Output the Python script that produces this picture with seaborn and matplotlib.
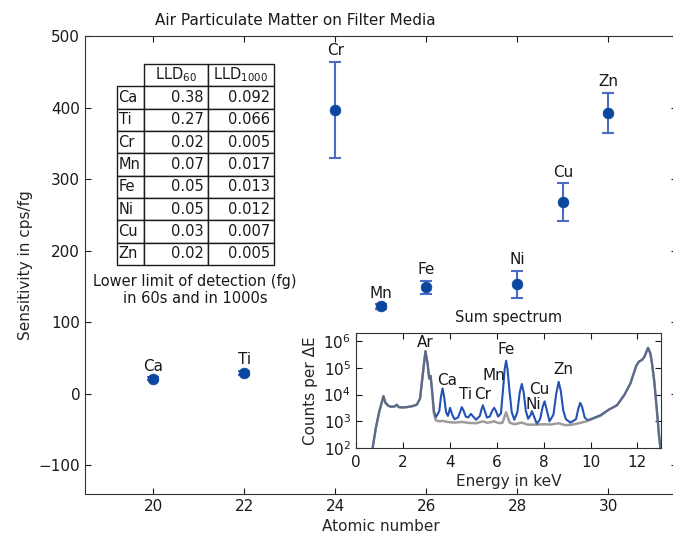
import matplotlib
matplotlib.use('Agg')
import matplotlib.pyplot as plt
import numpy as np
import pandas as pd
import seaborn as sns

# sensitivity per element
elements = ['Ca', 'Ti', 'Cr', 'Mn', 'Fe', 'Ni', 'Cu', 'Zn']
atomic_number = [20, 22, 24, 25, 26, 28, 29, 30]
sensitivity = [21, 29, 397, 122, 149, 153, 268, 393]
sens_err = [2, 3, 67, 3, 9, 19, 26, 28]

# lower limit of detection table
lld_cols = ['', 'LLD$_{60}$', 'LLD$_{1000}$']
lld_60 = ['0.38', '0.27', '0.02', '0.07', '0.05', '0.05', '0.03', '0.02']
lld_1000 = ['0.092', '0.066', '0.005', '0.017', '0.013', '0.012', '0.007', '0.005']

# sum spectrum (keV, counts per dE)
spec_low_e = [0.68, 0.85, 1.0, 1.12, 1.17, 1.25, 1.38, 1.5, 1.65, 1.74, 1.82, 2.0, 2.16,
              2.4, 2.59, 2.73, 2.85, 2.96, 3.05, 3.12, 3.18, 3.24]
spec_low_c = [70, 600, 2500, 6000, 8700, 5000, 3800, 3500, 3600, 4200, 3400, 3300, 3400,
              3700, 4200, 7000, 60000, 420000, 150000, 40000, 50000, 15000]
blue_mid_e = [3.32, 3.40, 3.55, 3.62, 3.69, 3.76, 3.84, 3.92, 4.01, 4.10, 4.20, 4.35, 4.45,
              4.51, 4.58, 4.68, 4.78, 4.90, 5.00, 5.12, 5.28, 5.35, 5.41, 5.48, 5.58, 5.70,
              5.82, 5.89, 5.96, 6.06, 6.18, 6.28, 6.34, 6.40, 6.46, 6.54, 6.64, 6.75, 6.88,
              6.98, 7.07, 7.15, 7.24, 7.34, 7.44, 7.50, 7.58, 7.71, 7.85, 7.96, 8.04, 8.12,
              8.25, 8.42, 8.53, 8.64, 8.73, 8.84, 8.95, 9.14, 9.38, 9.48, 9.56, 9.64, 9.75,
              9.88, 10.1, 10.42]
blue_mid_c = [2500, 1400, 2400, 8000, 17000, 8000, 2200, 1600, 3200, 1800, 1200, 1400, 2400,
              3400, 2600, 1500, 1400, 1900, 1500, 1150, 1600, 2800, 4000, 2600, 1400, 1500,
              2600, 3200, 2500, 1500, 2000, 20000, 90000, 185000, 90000, 15000, 2200, 1150,
              2200, 12000, 25000, 12000, 2500, 1250, 1700, 2400, 1600, 800, 1200, 3500, 5600,
              3000, 1000, 1800, 10000, 30000, 14000, 2500, 1200, 900, 1200, 3000, 4900, 3500,
              1400, 1100, 1300, 1700]
gray_mid_e = [3.32, 3.40, 3.55, 3.69, 3.90, 4.20, 4.51, 4.80, 5.12, 5.41, 5.60, 5.89, 6.10,
              6.25, 6.40, 6.55, 6.75, 7.07, 7.30, 7.60, 8.04, 8.30, 8.64, 8.92, 9.20, 9.50,
              9.82, 10.1, 10.42]
gray_mid_c = [2000, 1100, 1000, 1050, 950, 900, 950, 880, 850, 1000, 880, 1000, 850,
              900, 2200, 900, 780, 900, 760, 750, 780, 760, 850, 720, 750, 850,
              1000, 1250, 1600]
spec_high_e = [10.8, 11.13, 11.45, 11.7, 11.95, 12.06, 12.2, 12.3, 12.45, 12.55, 12.62,
               12.72, 12.84, 12.92, 12.98, 13.0]
spec_high_c = [2800, 4000, 10000, 26000, 120000, 170000, 200000, 260000, 560000, 350000,
               150000, 30000, 2000, 300, 100, 60]

# inset peak labels (keV, counts)
peak_names = ['Ar', 'Ca', 'Ti', 'Cr', 'Mn', 'Fe', 'Cu', 'Ni', 'Zn']
peak_e = [2.95, 3.87, 4.65, 5.41, 5.86, 6.40, 7.83, 7.54, 8.85]
peak_c = [8.7e5, 3.5e4, 1.0e4, 1.0e4, 5.1e4, 4.9e5, 1.55e4, 4.3e3, 8.9e4]

sns.set_style('ticks', {'xtick.direction': 'in', 'ytick.direction': 'in',
                        'axes.edgecolor': '0.2'})
plt.rcParams.update({'xtick.top': True, 'ytick.right': True,
                     'xtick.major.size': 4, 'ytick.major.size': 4,
                     'xtick.minor.size': 2, 'ytick.minor.size': 2,
                     'font.size': 11, 'xtick.labelsize': 11, 'ytick.labelsize': 11,
                     'text.color': '0.1', 'xtick.color': '0.1', 'ytick.color': '0.1'})

fig = plt.figure(figsize=(6.73, 5.36), dpi=100)
ax = fig.add_axes([0.1263, 0.0784, 0.879, 0.8545])

dots = '#0b479e'
bars = '#4a6cc4'
ax.errorbar(atomic_number, sensitivity, yerr=sens_err, fmt='none', ecolor=bars,
            elinewidth=1.5, capsize=4, capthick=1.5, zorder=2)
sns.scatterplot(x=atomic_number, y=sensitivity, ax=ax, color=dots, s=60,
                edgecolor=dots, linewidth=0.5, zorder=3)
for name, z, s, e in zip(elements, atomic_number, sensitivity, sens_err):
    ax.text(z, s + e + 5, name, ha='center', va='bottom', fontsize=11)

ax.set_xlim(18.5, 31.5)
ax.set_ylim(-140, 500)
ax.set_xticks([20, 22, 24, 26, 28, 30])
ax.set_yticks([-100, 0, 100, 200, 300, 400, 500])
ax.set_title('Air Particulate Matter on Filter Media', fontsize=11, x=0.355, pad=8)
ax.set_xlabel('Atomic number', fontsize=11)
ax.set_ylabel('Sensitivity in cps/fg', fontsize=11)

# table
cell_text = [[el, a, b] for el, a, b in zip(elements, lld_60, lld_1000)]
tab = ax.table(cellText=cell_text, colLabels=lld_cols, cellLoc='right',
               colLoc='center', bbox=[0.054, 0.5, 0.265, 0.439])
tab.auto_set_font_size(False)
tab.set_fontsize(10.5)
col_w = [27, 64, 66]
for (r, c), cell in tab.get_celld().items():
    cell.set_linewidth(1.0)
    cell.set_edgecolor('0.1')
    cell.set_width(col_w[c])
    cell.PAD = 0.06
    if c == 0:
        cell.get_text().set_horizontalalignment('left')
tab[(0, 0)].set_visible(False)
ax.text(0.186, 0.445, 'Lower limit of detection (fg)\nin 60s and in 1000s',
        transform=ax.transAxes, ha='center', va='center', fontsize=10.5)

# inset spectrum
ax_in = fig.add_axes([0.529, 0.164, 0.453, 0.2146])
blue_e = spec_low_e + blue_mid_e + spec_high_e
blue_c = spec_low_c + blue_mid_c + spec_high_c
gray_e = spec_low_e + gray_mid_e + spec_high_e
gray_c = spec_low_c + gray_mid_c + spec_high_c
sns.lineplot(x=blue_e, y=blue_c, ax=ax_in, color='#2451b5', linewidth=1.5,
             sort=False, estimator=None)
sns.lineplot(x=gray_e, y=gray_c, ax=ax_in, color='0.45', alpha=0.7, linewidth=1.8,
             sort=False, estimator=None)
ax_in.set_yscale('log')
ax_in.set_xlim(0, 13)
ax_in.set_ylim(1e2, 2e6)
ax_in.set_xticks([0, 2, 4, 6, 8, 10, 12])
ax_in.set_yticks([1e2, 1e3, 1e4, 1e5, 1e6])
ax_in.tick_params(axis='x', pad=5)
for name, e, c in zip(peak_names, peak_e, peak_c):
    ax_in.text(e, c, name, ha='center', va='center', fontsize=11)
ax_in.set_title('Sum spectrum', fontsize=10.5, pad=8)
ax_in.set_xlabel('Energy in keV', fontsize=11, labelpad=3)
ax_in.set_ylabel('Counts per ΔE', fontsize=11)

fig.savefig('out.png', dpi=100)
